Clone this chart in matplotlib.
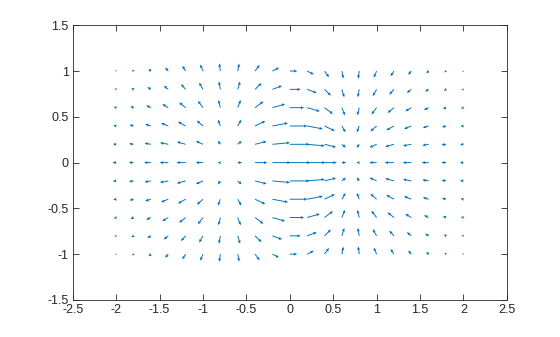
import matplotlib
matplotlib.use("Agg")
import matplotlib.pyplot as plt
from matplotlib.ticker import FuncFormatter
import numpy as np

plt.rcParams['font.family'] = ['Liberation Sans', 'DejaVu Sans']
plt.rcParams['axes.unicode_minus'] = False

x_vals = [-2.0, -1.8, -1.6, -1.4, -1.2, -1.0, -0.8, -0.6, -0.4, -0.2, 0.0,
          0.2, 0.4, 0.6, 0.8, 1.0, 1.2, 1.4, 1.6, 1.8, 2.0]
y_vals = [-1.0, -0.8, -0.6, -0.4, -0.2, 0.0, 0.2, 0.4, 0.6, 0.8, 1.0]

# horizontal components, one row per y value (bottom to top)
U = [
    [-0.06, -0.08, -0.12, -0.15, -0.16, -0.13, -0.05, 0.07, 0.21, 0.31, 0.35, 0.31, 0.21, 0.07, -0.05, -0.13, -0.16, -0.15, -0.12, -0.08, -0.06],
    [-0.09, -0.11, -0.17, -0.21, -0.22, -0.18, -0.07, 0.11, 0.30, 0.45, 0.51, 0.45, 0.30, 0.11, -0.07, -0.18, -0.22, -0.21, -0.17, -0.11, -0.09],
    [-0.12, -0.15, -0.22, -0.28, -0.30, -0.24, -0.09, 0.14, 0.39, 0.59, 0.67, 0.59, 0.39, 0.14, -0.09, -0.24, -0.30, -0.28, -0.22, -0.15, -0.12],
    [-0.14, -0.19, -0.27, -0.34, -0.36, -0.29, -0.11, 0.17, 0.48, 0.73, 0.82, 0.73, 0.48, 0.17, -0.11, -0.29, -0.36, -0.34, -0.27, -0.19, -0.14],
    [-0.16, -0.21, -0.30, -0.39, -0.41, -0.33, -0.12, 0.19, 0.54, 0.82, 0.92, 0.82, 0.54, 0.19, -0.12, -0.33, -0.41, -0.39, -0.30, -0.21, -0.16],
    [-0.17, -0.22, -0.32, -0.40, -0.43, -0.34, -0.13, 0.20, 0.57, 0.85, 0.96, 0.85, 0.57, 0.20, -0.13, -0.34, -0.43, -0.40, -0.32, -0.22, -0.17],
    [-0.16, -0.21, -0.30, -0.39, -0.41, -0.33, -0.12, 0.19, 0.54, 0.82, 0.92, 0.82, 0.54, 0.19, -0.12, -0.33, -0.41, -0.39, -0.30, -0.21, -0.16],
    [-0.14, -0.19, -0.27, -0.34, -0.36, -0.29, -0.11, 0.17, 0.48, 0.73, 0.82, 0.73, 0.48, 0.17, -0.11, -0.29, -0.36, -0.34, -0.27, -0.19, -0.14],
    [-0.12, -0.15, -0.22, -0.28, -0.30, -0.24, -0.09, 0.14, 0.39, 0.59, 0.67, 0.59, 0.39, 0.14, -0.09, -0.24, -0.30, -0.28, -0.22, -0.15, -0.12],
    [-0.09, -0.11, -0.17, -0.21, -0.22, -0.18, -0.07, 0.11, 0.30, 0.45, 0.51, 0.45, 0.30, 0.11, -0.07, -0.18, -0.22, -0.21, -0.17, -0.11, -0.09],
    [-0.06, -0.08, -0.12, -0.15, -0.16, -0.13, -0.05, 0.07, 0.21, 0.31, 0.35, 0.31, 0.21, 0.07, -0.05, -0.13, -0.16, -0.15, -0.12, -0.08, -0.06],
]

# vertical components, one row per y value (bottom to top)
V = [
    [-0.03, -0.06, -0.10, -0.16, -0.23, -0.29, -0.34, -0.33, -0.27, -0.15, 0.0, 0.15, 0.27, 0.33, 0.34, 0.29, 0.23, 0.16, 0.10, 0.06, 0.03],
    [-0.03, -0.06, -0.10, -0.16, -0.23, -0.30, -0.35, -0.35, -0.28, -0.16, 0.0, 0.16, 0.28, 0.35, 0.35, 0.30, 0.23, 0.16, 0.10, 0.06, 0.03],
    [-0.03, -0.06, -0.10, -0.16, -0.23, -0.30, -0.34, -0.34, -0.28, -0.16, 0.0, 0.16, 0.28, 0.34, 0.34, 0.30, 0.23, 0.16, 0.10, 0.06, 0.03],
    [-0.02, -0.05, -0.08, -0.13, -0.19, -0.24, -0.28, -0.28, -0.22, -0.13, 0.0, 0.13, 0.22, 0.28, 0.28, 0.24, 0.19, 0.13, 0.08, 0.05, 0.02],
    [-0.01, -0.03, -0.05, -0.07, -0.11, -0.14, -0.16, -0.15, -0.13, -0.07, 0.0, 0.07, 0.13, 0.15, 0.16, 0.14, 0.11, 0.07, 0.05, 0.03, 0.01],
    [0.0, 0.0, 0.0, 0.0, 0.0, 0.0, 0.0, 0.0, 0.0, 0.0, 0.0, 0.0, 0.0, 0.0, 0.0, 0.0, 0.0, 0.0, 0.0, 0.0, 0.0],
    [0.01, 0.03, 0.05, 0.07, 0.11, 0.14, 0.16, 0.15, 0.13, 0.07, 0.0, -0.07, -0.13, -0.15, -0.16, -0.14, -0.11, -0.07, -0.05, -0.03, -0.01],
    [0.02, 0.05, 0.08, 0.13, 0.19, 0.24, 0.28, 0.28, 0.22, 0.13, 0.0, -0.13, -0.22, -0.28, -0.28, -0.24, -0.19, -0.13, -0.08, -0.05, -0.02],
    [0.03, 0.06, 0.10, 0.16, 0.23, 0.30, 0.34, 0.34, 0.28, 0.16, 0.0, -0.16, -0.28, -0.34, -0.34, -0.30, -0.23, -0.16, -0.10, -0.06, -0.03],
    [0.03, 0.06, 0.10, 0.16, 0.23, 0.30, 0.35, 0.35, 0.28, 0.16, 0.0, -0.16, -0.28, -0.35, -0.35, -0.30, -0.23, -0.16, -0.10, -0.06, -0.03],
    [0.03, 0.06, 0.10, 0.16, 0.23, 0.29, 0.34, 0.33, 0.27, 0.15, 0.0, -0.15, -0.27, -0.33, -0.34, -0.29, -0.23, -0.16, -0.10, -0.06, -0.03],
]

x_ticks = [-2.5, -2, -1.5, -1, -0.5, 0, 0.5, 1, 1.5, 2, 2.5]
y_ticks = [-1.5, -1, -0.5, 0, 0.5, 1, 1.5]

fig = plt.figure(figsize=(5.6, 3.37), dpi=100)
ax = fig.add_axes([0.13, 0.11, 0.775, 0.815])

X, Y = np.meshgrid(x_vals, y_vals)
ax.quiver(X, Y, np.array(U), np.array(V), color=(0, 0.447, 0.741),
          angles='xy', scale_units='xy', scale=4.05,
          width=0.0022, headwidth=3.2, headlength=3.6, headaxislength=3.2,
          minlength=0.3, minshaft=0.8)

ax.set_xlim(-2.5, 2.5)
ax.set_ylim(-1.5, 1.5)
ax.set_xticks(x_ticks)
ax.set_yticks(y_ticks)
fmt = FuncFormatter(lambda v, p: '%g' % v)
ax.xaxis.set_major_formatter(fmt)
ax.yaxis.set_major_formatter(fmt)
ax.tick_params(direction='in', length=4, width=0.6, top=True, right=True,
               labelsize=9, colors='#262626', pad=3)
for s in ax.spines.values():
    s.set_linewidth(0.6)
    s.set_color('#262626')

fig.savefig('out.png', dpi=100)
